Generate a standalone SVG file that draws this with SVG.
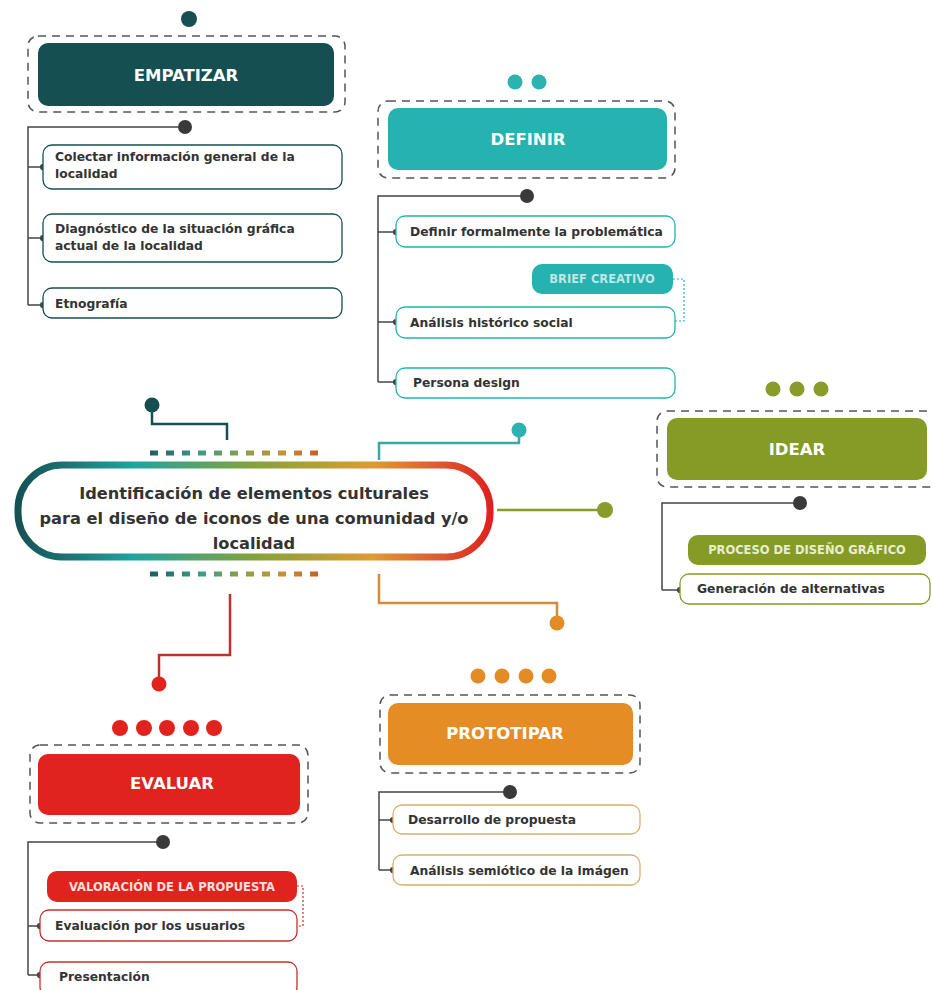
<svg xmlns="http://www.w3.org/2000/svg" width="932" height="990" viewBox="0 0 932 990">
<defs>
<style>
.hdr{font-family:"DejaVu Sans","Liberation Sans",sans-serif;font-weight:bold;font-size:16.5px;fill:#ffffff;text-anchor:middle}
.itm{font-family:"DejaVu Sans","Liberation Sans",sans-serif;font-weight:bold;font-size:12.3px;fill:#333333}
.tag{font-family:"DejaVu Sans","Liberation Sans",sans-serif;font-weight:bold;font-size:11.5px;text-anchor:middle}
.ctr{font-family:"DejaVu Sans","Liberation Sans",sans-serif;font-weight:bold;font-size:16.2px;fill:#333333;text-anchor:middle}
.dash{fill:none;stroke:#555555;stroke-width:1.5;stroke-dasharray:8 6}
.tree{fill:none;stroke:#444444;stroke-width:1.5}
.dot{fill:#3a3a3a}
.dotl{fill:none;stroke-width:1.2;stroke-dasharray:2 2}
</style>
<marker id="tip" viewBox="0 0 6 6" refX="3" refY="3" markerWidth="5" markerHeight="5" orient="auto"><circle cx="3" cy="3" r="2.5" fill="#444444"/></marker>
<linearGradient id="cg" x1="15" y1="0" x2="492" y2="0" gradientUnits="userSpaceOnUse">
<stop offset="0" stop-color="#164f52"/>
<stop offset="0.25" stop-color="#22a3a0"/>
<stop offset="0.5" stop-color="#82a33a"/>
<stop offset="0.75" stop-color="#df9a35"/>
<stop offset="0.9" stop-color="#d9572e"/>
<stop offset="1" stop-color="#e01f1f"/>
</linearGradient>
<linearGradient id="dg" x1="150" y1="0" x2="318" y2="0" gradientUnits="userSpaceOnUse">
<stop offset="0" stop-color="#1d5f60"/>
<stop offset="0.3" stop-color="#3f9a8a"/>
<stop offset="0.55" stop-color="#8aa04a"/>
<stop offset="0.8" stop-color="#c8903a"/>
<stop offset="1" stop-color="#c5602a"/>
</linearGradient>
</defs>
<rect x="0" y="0" width="932" height="990" fill="#ffffff"/>

<g id="connectors">
<polyline points="152,405 152,424 227,424 227,440" fill="none" stroke="#164f52" stroke-width="2.5"/>
<circle cx="152" cy="405" r="7.5" fill="#164f52"/>
<polyline points="379,460 379,443 519,443 519,430" fill="none" stroke="#3aa9a5" stroke-width="2.5"/>
<circle cx="519" cy="430" r="7.5" fill="#2cb3b0"/>
<line x1="497" y1="510" x2="605" y2="510" stroke="#8a9b2a" stroke-width="2.5"/>
<circle cx="605" cy="510" r="8" fill="#8a9b2a"/>
<polyline points="379,574 379,603 557,603 557,623" fill="none" stroke="#d18b3a" stroke-width="2.5"/>
<circle cx="557" cy="623" r="7.5" fill="#e38b25"/>
<polyline points="230,594 230,655 159,655 159,684" fill="none" stroke="#c0302a" stroke-width="2.5"/>
<circle cx="159" cy="684" r="7.5" fill="#e0231f"/>

<polyline class="tree" points="185,127 28,127 28,305"/>
<line class="tree" x1="28" y1="167" x2="43" y2="167" marker-end="url(#tip)"/>
<line class="tree" x1="28" y1="238" x2="43" y2="238" marker-end="url(#tip)"/>
<line class="tree" x1="28" y1="305" x2="43" y2="305" marker-end="url(#tip)"/>
<polyline class="tree" points="527,196 378,196 378,382"/>
<line class="tree" x1="378" y1="232" x2="396" y2="232" marker-end="url(#tip)"/>
<line class="tree" x1="378" y1="322" x2="396" y2="322" marker-end="url(#tip)"/>
<line class="tree" x1="378" y1="382" x2="396" y2="382" marker-end="url(#tip)"/>
<polyline class="dotl" stroke="#26b2ae" points="673,279 684,279 684,321 675,321"/>
<polyline class="tree" points="800,503 662,503 662,590"/>
<line class="tree" x1="662" y1="590" x2="680" y2="590" marker-end="url(#tip)"/>
<polyline class="tree" points="510,792 379,792 379,870"/>
<line class="tree" x1="379" y1="820" x2="393" y2="820" marker-end="url(#tip)"/>
<line class="tree" x1="379" y1="870" x2="393" y2="870" marker-end="url(#tip)"/>
<polyline class="tree" points="163,842 28,842 28,975"/>
<line class="tree" x1="28" y1="926" x2="40" y2="926" marker-end="url(#tip)"/>
<line class="tree" x1="28" y1="975" x2="40" y2="975" marker-end="url(#tip)"/>
<polyline class="dotl" stroke="#c8302a" points="297,886 303,886 303,926 298,926"/>
</g>

<g id="center">
<rect x="18" y="465" width="472" height="92" rx="44" fill="#ffffff" stroke="url(#cg)" stroke-width="7"/>
<text class="ctr" x="254" y="499">Identificación de elementos culturales</text>
<text class="ctr" x="254" y="524">para el diseño de iconos de una comunidad y/o</text>
<text class="ctr" x="254" y="549">localidad</text>
<line x1="150" y1="453" x2="318" y2="453" stroke="url(#dg)" stroke-width="5" stroke-dasharray="8 8"/>
<line x1="150" y1="574" x2="318" y2="574" stroke="url(#dg)" stroke-width="5" stroke-dasharray="8 8"/>
</g>

<g id="empatizar">
<circle cx="189" cy="19" r="8" fill="#164f52"/>
<rect class="dash" x="28" y="36" width="317" height="76" rx="10"/>
<rect x="38" y="43" width="296" height="63" rx="10" fill="#164f52"/>
<text class="hdr" x="186" y="81">EMPATIZAR</text>
<circle class="dot" cx="185" cy="127" r="7"/>
</g>
<g id="emp-1"><rect x="43" y="145" width="299" height="44" rx="9" fill="#fff" stroke="#164f52" stroke-width="1.3"/>
<text class="itm" x="55" y="161">Colectar información general de la</text><text class="itm" x="55" y="178">localidad</text></g>
<g id="emp-2"><rect x="43" y="214" width="299" height="48" rx="9" fill="#fff" stroke="#164f52" stroke-width="1.3"/>
<text class="itm" x="55" y="233">Diagnóstico de la situación gráfica</text><text class="itm" x="55" y="250">actual de la localidad</text></g>
<g id="emp-3"><rect x="43" y="288" width="299" height="30" rx="9" fill="#fff" stroke="#164f52" stroke-width="1.3"/>
<text class="itm" x="55" y="308">Etnografía</text></g>

<g id="definir">
<circle cx="515" cy="82" r="7.5" fill="#2cb3b0"/>
<circle cx="539" cy="82" r="7.5" fill="#2cb3b0"/>
<rect class="dash" x="378" y="101" width="297" height="77" rx="10"/>
<rect x="388" y="108" width="279" height="62" rx="10" fill="#26b2ae"/>
<text class="hdr" x="528" y="145">DEFINIR</text>
<circle class="dot" cx="527" cy="196" r="7"/>
</g>
<g id="def-1"><rect x="396" y="216" width="279" height="31" rx="9" fill="#fff" stroke="#26b2ae" stroke-width="1.3"/>
<text class="itm" x="410" y="236">Definir formalmente la problemática</text></g>
<g id="def-tag"><rect x="532" y="264" width="141" height="30" rx="10" fill="#26b2ae"/>
<text class="tag" x="602" y="283" fill="#bfe7e5">BRIEF CREATIVO</text></g>
<g id="def-2"><rect x="396" y="307" width="279" height="31" rx="9" fill="#fff" stroke="#26b2ae" stroke-width="1.3"/>
<text class="itm" x="410" y="327">Análisis histórico social</text></g>
<g id="def-3"><rect x="396" y="368" width="279" height="30" rx="9" fill="#fff" stroke="#26b2ae" stroke-width="1.3"/>
<text class="itm" x="413" y="387">Persona design</text></g>

<g id="idear">
<circle cx="773" cy="389" r="7.5" fill="#8a9b2a"/>
<circle cx="797" cy="389" r="7.5" fill="#8a9b2a"/>
<circle cx="821" cy="389" r="7.5" fill="#8a9b2a"/>
<rect class="dash" x="657" y="411" width="290" height="76" rx="10"/>
<rect x="667" y="418" width="260" height="62" rx="10" fill="#869a26"/>
<text class="hdr" x="797" y="455">IDEAR</text>
<circle class="dot" cx="800" cy="503" r="7"/>
</g>
<g id="ide-tag"><rect x="688" y="535" width="238" height="30" rx="10" fill="#869a26"/>
<text class="tag" x="807" y="554" fill="#e8efd0">PROCESO DE DISEÑO GRÁFICO</text></g>
<g id="ide-1"><rect x="680" y="574" width="250" height="30" rx="9" fill="#fff" stroke="#869a26" stroke-width="1.3"/>
<text class="itm" x="697" y="593">Generación de alternativas</text></g>

<g id="prototipar">
<circle cx="478" cy="676" r="7.5" fill="#e38b25"/>
<circle cx="502" cy="676" r="7.5" fill="#e38b25"/>
<circle cx="526" cy="676" r="7.5" fill="#e38b25"/>
<circle cx="549" cy="676" r="7.5" fill="#e38b25"/>
<rect class="dash" x="380" y="695" width="260" height="78" rx="10"/>
<rect x="388" y="703" width="245" height="62" rx="10" fill="#e68c24"/>
<text class="hdr" x="505" y="739">PROTOTIPAR</text>
<circle class="dot" cx="510" cy="792" r="7"/>
</g>
<g id="pro-1"><rect x="393" y="805" width="247" height="29" rx="9" fill="#fff" stroke="#d7b06a" stroke-width="1.3"/>
<text class="itm" x="408" y="824">Desarrollo de propuesta</text></g>
<g id="pro-2"><rect x="393" y="855" width="247" height="30" rx="9" fill="#fff" stroke="#d7b06a" stroke-width="1.3"/>
<text class="itm" x="410" y="875">Análisis semiótico de la imágen</text></g>

<g id="evaluar">
<circle cx="120" cy="728" r="8" fill="#e0231f"/>
<circle cx="144" cy="728" r="8" fill="#e0231f"/>
<circle cx="167" cy="728" r="8" fill="#e0231f"/>
<circle cx="191" cy="728" r="8" fill="#e0231f"/>
<circle cx="214" cy="728" r="8" fill="#e0231f"/>
<rect class="dash" x="30" y="745" width="278" height="78" rx="10"/>
<rect x="38" y="754" width="262" height="61" rx="10" fill="#e0231f"/>
<text class="hdr" x="172" y="789">EVALUAR</text>
<circle class="dot" cx="163" cy="842" r="7"/>
</g>
<g id="eva-tag"><rect x="47" y="871" width="250" height="31" rx="10" fill="#e0231f"/>
<text class="tag" x="172" y="891" fill="#fbe0df">VALORACIÓN DE LA PROPUESTA</text></g>
<g id="eva-1"><rect x="40" y="910" width="257" height="31" rx="9" fill="#fff" stroke="#c8302a" stroke-width="1.3"/>
<text class="itm" x="55" y="930">Evaluación por los usuarios</text></g>
<g id="eva-2"><rect x="40" y="962" width="257" height="34" rx="9" fill="#fff" stroke="#c8302a" stroke-width="1.3"/>
<text class="itm" x="59" y="981">Presentación</text></g>
</svg>
